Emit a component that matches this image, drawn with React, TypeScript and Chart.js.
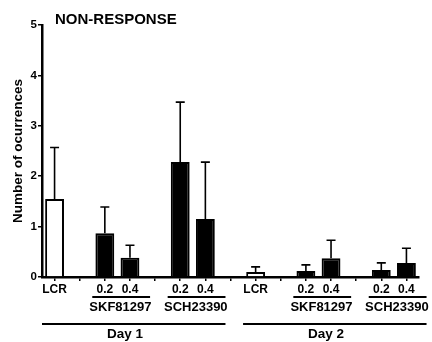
import React, { useEffect, useRef } from "react";
import { Chart, registerables } from "chart.js";

Chart.register(...registerables);

const TITLE = "NON-RESPONSE";
const Y_TITLE = "Number of ocurrences";
const labels = ["LCR", "", "0.2", "0.4", "", "0.2", "0.4", "", "LCR", "", "0.2", "0.4", "", "0.2", "0.4"];
const means = [1.55, null, 0.87, 0.38, null, 2.28, 1.15, null, 0.1, null, 0.12, 0.37, null, 0.14, 0.28];
const errors = [1.02, null, 0.52, 0.25, null, 1.19, 1.13, null, 0.1, null, 0.12, 0.36, null, 0.14, 0.29];
const isControl = [true, false, false, false, false, false, false, false, true, false, false, false, false, false, false];
const drugGroups = ["SKF81297", "SCH23390", "SKF81297", "SCH23390"];
const drugFrom = [2, 5, 10, 13];
const drugTo = [3, 6, 11, 14];
const dayGroups = ["Day 1", "Day 2"];
const dayFrom = [0, 8];
const dayTo = [6, 14];
const yTicks = [0, 1, 2, 3, 4, 5];

const FONT = "'Liberation Sans', Arial, Helvetica, sans-serif";

const annotPlugin = {
  id: "annot",
  afterDatasetsDraw(chart: any) {
    const ctx = chart.ctx;
    const ys = chart.scales.y;
    const meta = chart.getDatasetMeta(0);
    ctx.save();
    ctx.strokeStyle = "#000";
    ctx.lineWidth = 1.6;
    means.forEach((m, i) => {
      const e = errors[i];
      if (m == null || e == null) return;
      const bar = meta.data[i];
      const x = bar.x;
      const y0 = ys.getPixelForValue(m);
      const y1 = ys.getPixelForValue(m + e);
      ctx.beginPath();
      ctx.moveTo(x, y0);
      ctx.lineTo(x, y1);
      ctx.moveTo(x - 4.5, y1);
      ctx.lineTo(x + 4.5, y1);
      ctx.stroke();
    });
    ctx.restore();
  },
  afterDraw(chart: any) {
    const ctx = chart.ctx;
    const xs = chart.scales.x;
    const cw = xs.getPixelForValue(1) - xs.getPixelForValue(0);
    ctx.save();
    ctx.fillStyle = "#000";
    ctx.strokeStyle = "#000";
    // title
    ctx.font = `bold 15px ${FONT}`;
    ctx.textAlign = "left";
    ctx.textBaseline = "middle";
    ctx.fillText(TITLE, 55, 20);
    // y title
    ctx.save();
    ctx.translate(18, 151);
    ctx.rotate(-Math.PI / 2);
    ctx.font = `bold 13.5px ${FONT}`;
    ctx.textAlign = "center";
    ctx.fillText(Y_TITLE, 0, 0);
    ctx.restore();
    // drug groups
    ctx.lineWidth = 2;
    drugGroups.forEach((name, g) => {
      const a = xs.getPixelForValue(drugFrom[g]);
      const b = xs.getPixelForValue(drugTo[g]);
      ctx.beginPath();
      ctx.moveTo(a - 0.5 * cw, 297);
      ctx.lineTo(b + 0.8 * cw, 297);
      ctx.stroke();
      ctx.font = `bold 13px ${FONT}`;
      ctx.textAlign = "center";
      ctx.fillText(name, (a + b) / 2 + 3, 307);
    });
    dayGroups.forEach((name, g) => {
      const a = xs.getPixelForValue(dayFrom[g]);
      const b = xs.getPixelForValue(dayTo[g]);
      ctx.beginPath();
      ctx.moveTo(a - 0.5 * cw, 324);
      ctx.lineTo(b + 0.8 * cw, 324);
      ctx.stroke();
      ctx.font = `bold 13.5px ${FONT}`;
      ctx.textAlign = "center";
      ctx.fillText(name, (a + b) / 2 - 5, 334);
    });
    ctx.restore();
  },
};

export default function App() {
  const ref = useRef<HTMLCanvasElement>(null);
  useEffect(() => {
    const chart = new Chart(ref.current!, {
      type: "bar",
      data: {
        labels,
        datasets: [
          {
            data: means as any,
            backgroundColor: isControl.map((c) => (c ? "#fff" : "#000")),
            borderColor: "#000",
            borderWidth: 2,
            categoryPercentage: 1,
            barPercentage: 0.75,
          },
        ],
      },
      options: {
        animation: false,
        responsive: false,
        devicePixelRatio: 1,
        layout: { padding: { top: 25, right: 13, left: 0, bottom: 0 } },
        plugins: { legend: { display: false }, tooltip: { enabled: false }, title: { display: false } },
        scales: {
          x: {
            afterFit: (s: any) => {
              s.height = 65;
            },
            border: { display: true, color: "#000", width: 2.5 },
            grid: { display: true, drawOnChartArea: false, offset: false, tickLength: 4, color: "#000", lineWidth: 1.5 },
            ticks: { color: "#000", font: { family: FONT, size: 12, weight: "bold" }, padding: 1, maxRotation: 0, autoSkip: false },
          },
          y: {
            min: 0,
            max: 5,
            afterFit: (s: any) => {
              s.width = 42;
            },
            afterBuildTicks: (s: any) => {
              s.ticks = yTicks.map((v) => ({ value: v }));
            },
            border: { display: true, color: "#000", width: 2.5 },
            grid: { display: true, drawOnChartArea: false, tickLength: 4, color: "#000", lineWidth: 1.5 },
            ticks: { color: "#000", font: { family: FONT, size: 11.5, weight: "bold" }, padding: 1 },
          },
        },
      },
      plugins: [annotPlugin],
    });
    return () => chart.destroy();
  }, []);
  return (
    <div style={{ position: "absolute", left: 0, top: 0, width: 432, height: 342, background: "#fff" }}>
      <canvas ref={ref} width={432} height={342} style={{ width: 432, height: 342 }} />
    </div>
  );
}
